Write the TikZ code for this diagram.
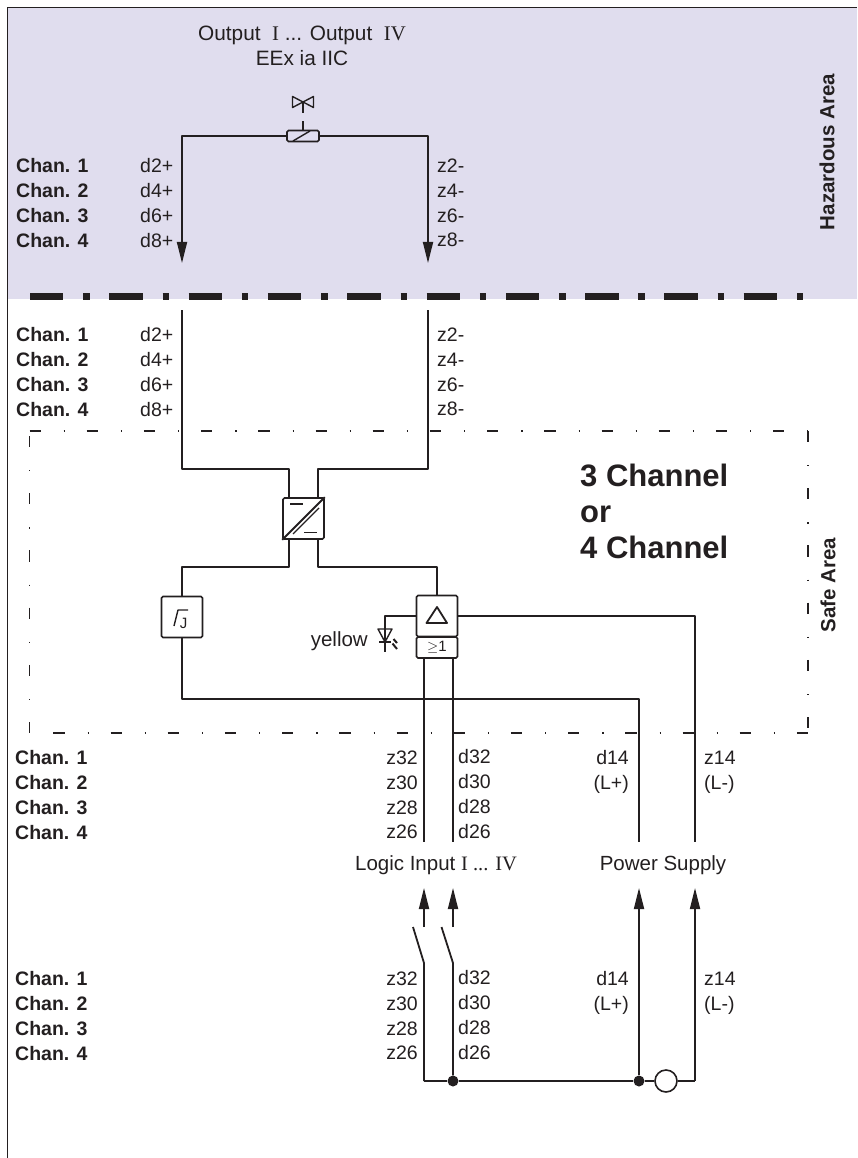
\documentclass[tikz,border=0pt]{standalone}
\usepackage{fontspec}
\setmainfont{Liberation Sans}
\newfontfamily\romfont{Liberation Serif}
\usetikzlibrary{arrows.meta,positioning}
\definecolor{ink}{HTML}{231F20}
\definecolor{hazfill}{HTML}{E0DDEE}
\begin{document}
\begin{tikzpicture}[x=1pt,y=-1pt,color=ink,
  wire/.style={line width=1.8pt, line join=round},
  thinwire/.style={line width=1.4pt, line join=round},
  arr/.style={wire, -{Triangle[length=21pt,width=10pt]}},
  box/.style={rectangle, draw, rounded corners=1.5pt, line width=1.7pt,
              minimum width=41pt, minimum height=41pt, inner sep=0pt},
  dot/.style={circle, fill, inner sep=0pt, minimum size=11pt},
  safeline/.style={line width=1.2pt,
              dash pattern=on 11.2pt off 23pt on 1.2pt off 21.8pt},
  lbl/.style={inner sep=0pt, font=\fontsize{19.5}{24.7}\selectfont},
  chanlbl/.style={lbl, anchor=west, align=left,
              font=\fontsize{19.5}{24.7}\selectfont\bfseries},
  leftlbl/.style={lbl, anchor=west, align=left},
  rightlbl/.style={lbl, anchor=east, align=right},
  arealbl/.style={inner sep=0pt, rotate=90,
              font=\fontsize{20.5}{24}\selectfont\bfseries},
]
  \useasboundingbox (0,0) rectangle (857,1158);
  \fill[hazfill] (7.5,8) rectangle (857,298.5);
  \draw[line width=1pt] (7.5,1158) -- (7.5,8) -- (857,8);
  \draw[line width=6.8pt, dash pattern=on 33.4pt off 19.9pt on 6.4pt off 19.6pt]
    (30,296.6) -- (803,296.6);

  \draw[safeline] (29.5,431) -- (808,431);
  \draw[safeline] (29.5,436) -- (29.5,733);
  \draw[safeline] (53.3,733) -- (808,733);
  \draw[safeline] (808,431) -- (808,733);

  \node[lbl, align=center, font=\fontsize{20.8}{25}\selectfont] (outtitle) at (302,46)
    {Output~~{\romfont I} ... Output~~{\romfont IV}\\EEx ia IIC};
  \node[arealbl] (hazlabel) at (827,152) {Hazardous Area};
  \node[arealbl] (safelabel) at (828,585) {Safe Area};
  \node[lbl, anchor=west, align=left, font=\fontsize{31}{36}\selectfont\bfseries]
    (chancount) at (580,511) {3 Channel\\or\\4 Channel};

  \node[chanlbl] (chanA) at (16,203) {Chan. 1\\Chan. 2\\Chan. 3\\Chan. 4};
  \node[leftlbl] (dpinA) at (140,203) {d2+\\d4+\\d6+\\d8+};
  \node[leftlbl] (zpinA) at (437,203) {z2-\\z4-\\z6-\\z8-};
  \node[chanlbl] (chanB) at (16,372) {Chan. 1\\Chan. 2\\Chan. 3\\Chan. 4};
  \node[leftlbl] (dpinB) at (140,372) {d2+\\d4+\\d6+\\d8+};
  \node[leftlbl] (zpinB) at (437,372) {z2-\\z4-\\z6-\\z8-};
  \node[chanlbl] (chanC) at (15,795) {Chan. 1\\Chan. 2\\Chan. 3\\Chan. 4};
  \node[rightlbl] (zlogC) at (418,795) {z32\\z30\\z28\\z26};
  \node[leftlbl] (dlogC) at (458,794) {d32\\d30\\d28\\d26};
  \node[rightlbl] (dsupC) at (629,772) {d14\\(L+)};
  \node[leftlbl] (zsupC) at (704,772) {z14\\(L-)};
  \node[chanlbl] (chanD) at (15,1016) {Chan. 1\\Chan. 2\\Chan. 3\\Chan. 4};
  \node[rightlbl] (zlogD) at (418,1016) {z32\\z30\\z28\\z26};
  \node[leftlbl] (dlogD) at (458,1015) {d32\\d30\\d28\\d26};
  \node[rightlbl] (dsupD) at (629,993) {d14\\(L+)};
  \node[leftlbl] (zsupD) at (704,993) {z14\\(L-)};
  \node[lbl, font=\fontsize{20.5}{25}\selectfont] (logiclabel) at (436,865)
    {Logic Input {\romfont I ... IV}};
  \node[lbl, font=\fontsize{20.5}{25}\selectfont] (powerlabel) at (663,865) {Power Supply};
  \node[lbl, anchor=east, font=\fontsize{20.5}{25}\selectfont] (yellowlabel) at (368,641) {yellow};

  \node[box, minimum width=32pt, minimum height=11pt] (solenoid) at (303,136) {};
  \coordinate (tipL) at (182,263);
  \coordinate (tipR) at (428,263);
  \draw[arr] (solenoid.west) -| (tipL);
  \draw[arr] (solenoid.east) -| (tipR);
  \draw[thinwire] (293,141) -- (310,131);
  \draw[thinwire] (303,130) -- (303,120.7);
  \draw[thinwire] (303,112.7) -- (303,102);
  \draw[thinwire] (292.5,96.5) -- (313.5,107.5) -- (313.5,96.5) -- (292.5,107.5) -- cycle;

  \node[box] (conv) at (303.5,518.5) {};
  \coordinate (convTL) at (289,498);
  \coordinate (convTR) at (318,498);
  \coordinate (convBL) at (289,539);
  \coordinate (convBR) at (318,539);
  \coordinate (wireL) at (182,310);
  \coordinate (wireR) at (428,310);
  \draw[wire] (wireL) -- ++(0,159) -| (convTL);
  \draw[wire] (wireR) -- ++(0,159) -| (convTR);
  \draw[wire] (conv.south west) -- (conv.north east);
  \draw[thinwire] (293,534) -- (319,508);
  \draw[wire] (290,504) -- (303,504);
  \draw[wire] (304,532.5) -- (317,532.5);

  \node[box] (jbox) at (182,617) {};
  \node[inner sep=0pt, font=\fontsize{15}{15}\selectfont] (jmark) at (183.5,623) {J};
  \draw[thinwire] (174,626) -- (178,610) -- (188,610);
  \node[box] (tribox) at (437,616) {};
  \node[box, minimum height=21pt, font=\fontsize{15}{15}\selectfont] (orbox) at (437,647.5) {$\geq$1};
  \draw[wire] (437,607) -- (447,623) -- (426.5,623) -- cycle;
  \draw[wire] (convBL) -- ++(0,28) -| (jbox.north);
  \draw[wire] (convBR) -- ++(0,28) -| (tribox.north);

  \coordinate (supA) at (639,842);
  \coordinate (supB) at (695,842);
  \draw[wire] (jbox.south) -- ++(0,60.5) -| (supA);
  \draw[wire] (tribox.east) -| (supB);
  \coordinate (inA) at (424,658);
  \coordinate (inB) at (453,658);
  \coordinate (inAend) at (424,842);
  \coordinate (inBend) at (453,842);
  \draw[wire] (inA) -- (inAend);
  \draw[wire] (inB) -- (inBend);

  \coordinate (ledend) at (385,652);
  \draw[thinwire] (tribox.west) -| (ledend);
  \draw[thinwire] (378,629) -- (392,629) -- (385,642) -- cycle;
  \draw[thinwire] (379,642) -- (391,642);
  \draw[line width=2pt] (393.5,639) -- (397,643);
  \draw[line width=2pt] (392.5,643.5) -- (397,649);

  \coordinate (busA) at (424,1081);
  \node[dot] (busB) at (453,1081) {};
  \node[dot] (busC) at (639,1081) {};
  \node[circle, draw, line width=1.6pt, inner sep=0pt, minimum size=22pt] (lamp) at (666,1081) {};
  \coordinate (busD) at (695,1081);
  \draw[wire] (busA) -- (busB) -- (busC) -- (lamp.west);
  \draw[wire] (lamp.east) -- (busD);
  \coordinate (swA) at (424,963);
  \coordinate (swB) at (453,963);
  \coordinate (openA) at (413,927);
  \coordinate (openB) at (441.5,927);
  \draw[wire] (busA) -- (swA) -- (openA);
  \draw[wire] (busB) -- (swB) -- (openB);
  \coordinate (stubA) at (424,927);
  \coordinate (stubB) at (453,927);
  \coordinate (tipA) at (424,888);
  \coordinate (tipB) at (453,888);
  \coordinate (tipC) at (639,888);
  \coordinate (tipD) at (695,888);
  \draw[arr] (stubA) -- (tipA);
  \draw[arr] (stubB) -- (tipB);
  \draw[arr] (busC) -- (tipC);
  \draw[arr] (busD) -- (tipD);
\end{tikzpicture}
\end{document}
